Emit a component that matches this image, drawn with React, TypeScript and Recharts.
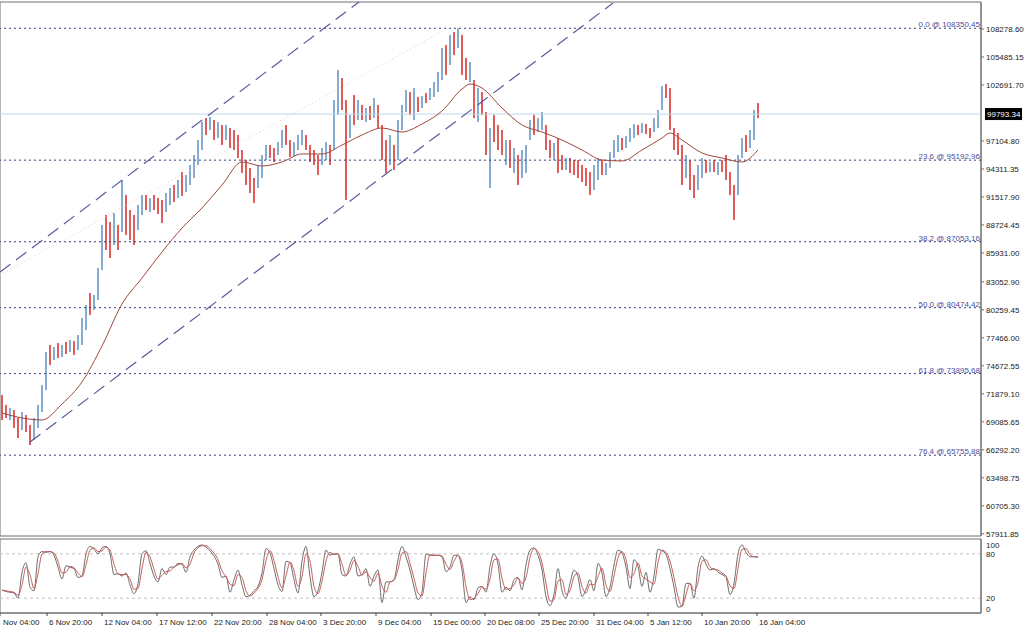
import React from 'react';
import {
  ComposedChart,
  Bar,
  Line,
  XAxis,
  YAxis,
  ReferenceLine,
  ReferenceArea,
  Cell,
} from 'recharts';

// H4 candles, one entry per bar (high / low)
const highs = [
  71760, 70760, 70460, 70270, 69470, 70070, 69770, 68770, 69470, 70760,
  72760, 76050, 76750, 76550, 76950, 76750, 77050, 77250, 77150, 77750,
  79440, 80740, 81940, 81740, 84430, 88720, 89720, 89020, 89920, 88720,
  93210, 91720, 90220, 89720, 90720, 91720, 91720, 91420, 91720, 91420,
  91220, 91910, 92410, 92710, 93210, 94010, 93710, 94710, 95710, 97200,
  99000, 99400, 99500, 99200, 99000, 98700, 98700, 98400, 98200, 97700,
  96210, 95210, 94410, 93410, 94710, 95710, 96700, 96700, 96400, 97000,
  98200, 98700, 97200, 97000, 97700, 98200, 97700, 96700, 96210, 95710,
  96400, 97000, 96700, 101190, 104190, 103390, 101190, 99700, 101690, 101190,
  100690, 100400, 100600, 101390, 100690, 98700, 97200, 97700, 96700, 99200,
  100690, 102190, 101990, 102390, 101490, 101590, 101890, 102390, 102990, 103990,
  106380, 106680, 107680, 107980, 108350, 107680, 105380, 104990, 103190, 102390,
  101990, 100000, 98400, 99700, 98700, 98200, 97200, 97200, 96400, 95710,
  96210, 96700, 99200, 99700, 99400, 100000, 98700, 97200, 96900, 97400,
  95710, 95410, 95410, 95210, 95210, 94710, 94410, 94010, 94710, 95410,
  95210, 94910, 96000, 97200, 97700, 97400, 97600, 98400, 98800, 98700,
  98900, 98800, 98400, 99400, 100200, 102590, 102790, 102390, 98400, 97900,
  96700, 95710, 95210, 93710, 94710, 95410, 95210, 95010, 95210, 95010,
  95210, 95710, 94010, 92710, 95710, 97400, 97700, 98200, 100200, 100890,
];

const lows = [
  69270, 69470, 69270, 68470, 67470, 68270, 68070, 66770, 67270, 68470,
  70070, 72260, 74750, 75250, 75450, 75550, 75850, 76050, 75750, 76250,
  76750, 78250, 79740, 80240, 81240, 84230, 86230, 85430, 86730, 86230,
  88020, 87720, 87230, 86730, 88220, 89720, 90220, 90020, 90220, 89820,
  88920, 90020, 90720, 91020, 91420, 91620, 92010, 92710, 93410, 94710,
  96210, 97700, 98200, 97200, 97400, 96700, 97200, 96400, 96210, 95410,
  93910, 92710, 91910, 90920, 92410, 93410, 95210, 95410, 95010, 95710,
  96400, 96700, 95510, 95610, 96210, 96700, 96210, 95010, 94710, 93710,
  94710, 95210, 94710, 96210, 99700, 100200, 91220, 97400, 98700, 99200,
  99200, 99000, 99200, 99400, 98400, 95210, 93910, 94710, 94210, 95210,
  98200, 100000, 99700, 99200, 100000, 100400, 100890, 101190, 101490, 101990,
  103190, 103690, 104690, 105680, 106380, 103690, 103190, 102990, 99400, 99000,
  99700, 95710, 92410, 97000, 96210, 95710, 94710, 94410, 93910, 92710,
  93410, 93910, 97200, 97700, 98000, 98200, 96210, 95410, 95210, 93910,
  94210, 94210, 93910, 93710, 93410, 93010, 92610, 91720, 92210, 93210,
  93710, 93710, 94410, 95410, 96000, 96210, 96400, 97000, 97400, 97700,
  97900, 97800, 97400, 98000, 98400, 100200, 101390, 98200, 96210, 95710,
  92710, 93410, 92210, 91420, 92210, 93410, 93910, 94010, 94010, 93710,
  94010, 93210, 91720, 89220, 91720, 95410, 96000, 96400, 97200, 99400,
];

// b = bullish (blue), r = bearish (red)
const candleDir =
  'rrbrrbrrbbbbrbrbrbrb' +
  'bbrbbbrrbrbrrrbbrbrr' +
  'rbbrbrbbbbbrbrbrbrrr' +
  'rrrrbbbrrbbrrbbbrrrr' +
  'bbrbbrrbrbrbrbrrrbrb' +
  'bbrbrbrbbbbrbrbrrbrb' +
  'rrbrrrbrbrbbbrbbrrbr' +
  'rbrrrrrrbbrbbbbrbbbr' +
  'brrbbbrrrrrbrrbbrbrb' +
  'rrrrbbrbbr';

// moving average, read at these bar positions
const maIndex = [
  0, 5, 10, 15, 20, 25, 30, 35, 40, 45, 50, 55, 60, 65, 70, 75, 80, 85, 90, 95,
  100, 105, 110, 115, 117, 120, 125, 130, 135, 140, 145, 150, 155, 160, 165, 167,
  170, 175, 180, 185, 189,
];
const maValues = [
  69970, 69470, 69270, 70860, 73060, 76650, 80840, 83430, 86030, 88420, 90420,
  92710, 95010, 94610, 95010, 95810, 95810, 96700, 97700, 98400, 98000, 98800,
  100100, 102290, 102790, 102390, 100400, 98700, 98000, 97200, 96210, 95210,
  95110, 96210, 97400, 97900, 97200, 95910, 95410, 95010, 96210,
];

// stochastic %K and %D per bar
const stochMain = [
  31, 29, 28, 27, 20, 55, 68, 35, 30, 76,
  83, 82, 83, 78, 62, 46, 64, 62, 60, 48,
  50, 80, 90, 86, 80, 88, 90, 80, 52, 53,
  50, 54, 38, 26, 40, 80, 84, 67, 50, 42,
  60, 52, 62, 62, 67, 66, 55, 76, 85, 90,
  92, 89, 84, 77, 66, 48, 50, 28, 45, 58,
  38, 22, 24, 30, 36, 54, 87, 81, 60, 38,
  29, 70, 68, 45, 27, 70, 90, 49, 22, 30,
  55, 85, 78, 80, 80, 52, 50, 66, 76, 50,
  52, 60, 36, 50, 58, 14, 42, 42, 45, 72,
  90, 76, 58, 35, 18, 28, 80, 78, 78, 78,
  76, 56, 62, 78, 78, 58, 14, 22, 18, 34,
  36, 28, 63, 80, 66, 28, 35, 30, 45, 48,
  31, 65, 85, 88, 78, 58, 22, 10, 25, 60,
  30, 20, 40, 58, 49, 22, 32, 45, 30, 67,
  54, 22, 35, 65, 85, 81, 62, 33, 72, 63,
  36, 55, 28, 50, 86, 84, 79, 60, 35, 8,
  9, 40, 40, 20, 62, 77, 66, 58, 60, 55,
  52, 48, 25, 40, 80, 92, 82, 76, 76, 75,
];
const stochSignal = [
  31, 30, 29, 28, 24, 38, 62, 52, 33, 53,
  80, 83, 83, 81, 70, 54, 55, 63, 61, 54,
  49, 65, 85, 88, 83, 84, 89, 85, 66, 53,
  52, 52, 46, 32, 33, 60, 82, 76, 59, 46,
  51, 56, 57, 62, 65, 67, 61, 66, 81, 88,
  91, 91, 87, 81, 72, 57, 49, 39, 37, 52,
  48, 30, 23, 27, 33, 45, 71, 84, 71, 49,
  34, 50, 69, 57, 36, 49, 80, 70, 36, 26,
  43, 70, 82, 79, 80, 66, 51, 58, 71, 63,
  51, 56, 48, 43, 54, 36, 28, 42, 44, 59,
  81, 83, 67, 47, 27, 23, 54, 79, 78, 78,
  77, 66, 59, 70, 78, 68, 36, 18, 20, 26,
  35, 32, 46, 72, 73, 47, 32, 33, 38, 47,
  40, 48, 75, 87, 83, 68, 40, 16, 18, 43,
  45, 25, 30, 49, 54, 36, 27, 39, 38, 49,
  61, 38, 29, 50, 75, 83, 72, 48, 53, 68,
  50, 46, 42, 39, 68, 85, 82, 70, 48, 22,
  9, 25, 40, 30, 41, 70, 72, 62, 59, 58,
  54, 50, 37, 33, 60, 86, 87, 79, 76, 76,
];

const fibLevels = [108350.45, 95192.96, 87053.16, 80474.42, 73895.68, 65755.88];
const fibNames = ['0.0', '23.6', '38.2', '50.0', '61.8', '76.4'];
const lastPrice = 99793.34;

const priceTicks = [
  108278.6, 105485.15, 102691.7, 97104.8, 94311.35, 91517.9, 88724.45, 85931,
  83052.9, 80259.45, 77466, 74672.55, 71879.1, 69085.65, 66292.2, 63498.75,
  60705.3, 57911.85,
];

const timeTicks = [
  -0.5, 11.25, 25, 38.75, 52.5, 66.25, 79.75, 93.5, 107.25, 120.75, 134.25, 148,
  161.5, 175, 188.75,
];
const timeLabels = [
  'Nov 04:00', '6 Nov 20:00', '12 Nov 04:00', '17 Nov 12:00', '22 Nov 20:00',
  '28 Nov 04:00', '3 Dec 20:00', '9 Dec 04:00', '15 Dec 00:00', '20 Dec 08:00',
  '25 Dec 20:00', '31 Dec 04:00', '5 Jan 12:00', '10 Jan 20:00', '16 Jan 04:00',
];

// trend lines: [bar index, price] end points
const channelUpper = [[-0.5, 84030], [89.25, 110970]];
const channelLower = [[7, 67070], [152.75, 110870]];
const faintTrend = [[-0.5, 83730], [110.75, 108180]];

const X_DOMAIN: [number, number] = [-0.5, 244.75];
const Y_DOMAIN: [number, number] = [57693, 110972];

const BLUE = '#86acd2';
const RED = '#e25c5c';
const AXIS = '#6e6e6e';
const FONT = "'Liberation Sans', Arial, sans-serif";

const candles = highs.map((h, i) => ({
  i,
  range: [lows[i], h],
  up: candleDir[i] === 'b',
}));
const maData = maIndex.map((i, k) => ({ i, ma: maValues[k] }));
const stochData = stochMain.map((v, i) => ({ i, k: v, d: stochSignal[i] }));

const PriceTag = (props: any) => {
  const { viewBox } = props;
  if (!viewBox) return null;
  const x = viewBox.x + viewBox.width + 4;
  const y = viewBox.y;
  return (
    <g>
      <rect x={x} y={y - 6} width={37} height={12} fill="#000" />
      <text x={x + 2} y={y + 3} fill="#fff" fontSize={8}>
        {lastPrice.toFixed(2)}
      </text>
    </g>
  );
};

const TimeTick = (props: any) => {
  const { x, y, payload } = props;
  const idx = timeTicks.indexOf(payload.value);
  const shift = idx === 0 ? 3 : 2;
  return (
    <text x={x + shift} y={y + 7} fontSize={8} fill="#222" textAnchor="start">
      {timeLabels[idx]}
    </text>
  );
};

const StochTick = (props: any) => {
  const { x, y, payload } = props;
  const v = payload.value;
  const dy = v === 100 ? 6 : v === 0 ? -4 : 0;
  return (
    <text x={x} y={y + dy + 3} fontSize={8} fill="#222" textAnchor="start">
      {v}
    </text>
  );
};

const App: React.FC = () => {
  return (
    <div
      style={{
        position: 'absolute',
        left: 0,
        top: 0,
        width: 1024,
        height: 632,
        background: '#fff',
        fontFamily: FONT,
      }}
    >
      <ComposedChart
        width={1024}
        height={538}
        data={candles}
        margin={{ top: 2, right: 0, bottom: 2, left: 0 }}
      >
        <XAxis dataKey="i" type="number" domain={X_DOMAIN} allowDataOverflow hide />
        <YAxis
          orientation="right"
          type="number"
          domain={Y_DOMAIN}
          allowDataOverflow
          ticks={priceTicks}
          interval={0}
          width={43}
          tickSize={3}
          tickMargin={2}
          tick={{ fontSize: 8, fill: '#222', textAnchor: 'start' }}
          tickFormatter={(v: number) => v.toFixed(2)}
          axisLine={{ stroke: AXIS }}
          tickLine={{ stroke: AXIS }}
        />
        <ReferenceArea
          x1={X_DOMAIN[0]}
          x2={X_DOMAIN[1]}
          y1={Y_DOMAIN[0]}
          y2={Y_DOMAIN[1]}
          fill="none"
          fillOpacity={0}
          stroke={AXIS}
        />
        <ReferenceLine y={lastPrice} stroke="#bcd9ee" label={<PriceTag />} />
        <ReferenceLine
          segment={faintTrend.map(([x, y]) => ({ x, y }))}
          stroke="#eac4c4"
          strokeDasharray="1 3"
        />
        {fibLevels.map((lvl, k) => (
          <ReferenceLine
            key={lvl}
            y={lvl}
            stroke="#3e3e7a"
            strokeDasharray="2 3"
            label={{
              value: `${fibNames[k]} @ ${lvl.toFixed(2)}`,
              position: 'insideBottomRight',
              offset: 1,
              fill: '#4c4ca2',
              fontSize: 8,
            }}
          />
        ))}
        <ReferenceLine
          segment={channelUpper.map(([x, y]) => ({ x, y }))}
          stroke="#5a5a9e"
          strokeWidth={1.2}
          strokeDasharray="13 7"
        />
        <ReferenceLine
          segment={channelLower.map(([x, y]) => ({ x, y }))}
          stroke="#5a5a9e"
          strokeWidth={1.2}
          strokeDasharray="13 7"
        />
        <Bar dataKey="range" barSize={2} isAnimationActive={false}>
          {candles.map((c) => (
            <Cell key={c.i} fill={c.up ? BLUE : RED} />
          ))}
        </Bar>
        <Line
          data={maData}
          dataKey="ma"
          type="monotone"
          stroke="#a3473d"
          strokeWidth={1}
          dot={false}
          isAnimationActive={false}
        />
      </ComposedChart>
      <ComposedChart
        width={1024}
        height={94}
        data={stochData}
        margin={{ top: 1, right: 0, bottom: 1, left: 0 }}
      >
        <XAxis
          dataKey="i"
          type="number"
          domain={X_DOMAIN}
          allowDataOverflow
          ticks={timeTicks}
          interval={0}
          height={18}
          tickSize={3}
          tick={<TimeTick />}
          axisLine={{ stroke: AXIS }}
          tickLine={{ stroke: '#444' }}
        />
        <YAxis
          orientation="right"
          type="number"
          domain={[0, 100]}
          ticks={[0, 20, 80, 100]}
          interval={0}
          width={43}
          tickSize={0}
          tickMargin={5}
          tick={<StochTick />}
          axisLine={{ stroke: AXIS }}
          tickLine={false}
        />
        <ReferenceArea
          x1={X_DOMAIN[0]}
          x2={X_DOMAIN[1]}
          y1={0}
          y2={100}
          fill="none"
          fillOpacity={0}
          stroke={AXIS}
        />
        <ReferenceLine y={80} stroke="#c4c4c4" strokeDasharray="3 3" />
        <ReferenceLine y={20} stroke="#c4c4c4" strokeDasharray="3 3" />
        <Line
          dataKey="k"
          type="monotone"
          stroke="#6c6c6c"
          strokeWidth={1}
          dot={false}
          isAnimationActive={false}
        />
        <Line
          dataKey="d"
          type="monotone"
          stroke="#c85e5a"
          strokeWidth={1}
          dot={false}
          isAnimationActive={false}
        />
      </ComposedChart>
    </div>
  );
};

export default App;
